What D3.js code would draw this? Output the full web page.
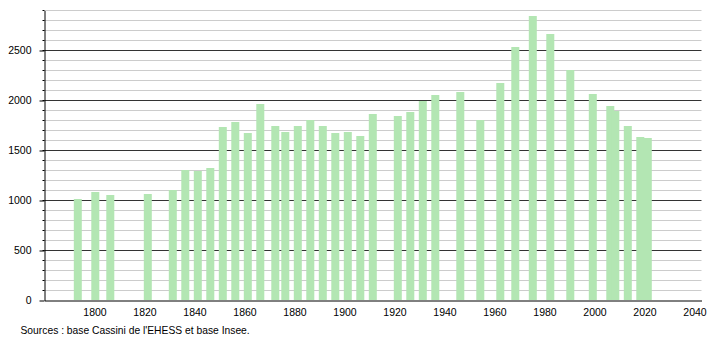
<!DOCTYPE html>
<html>
<head>
<meta charset="utf-8">
<script src="https://cdn.jsdelivr.net/npm/d3@7"></script>
<style>
  body { margin: 0; background: #fff; }
  svg { display: block; font-family: "Liberation Sans", Arial, sans-serif; }
</style>
</head>
<body>
<svg></svg>
<script>
// census years and population counts
var years = [1793, 1800, 1806, 1821, 1831, 1836, 1841, 1846, 1851, 1856,
  1861, 1866, 1872, 1876, 1881, 1886, 1891, 1896, 1901, 1906,
  1911, 1921, 1926, 1931, 1936, 1946, 1954, 1962, 1968, 1975,
  1982, 1990, 1999, 2006, 2008, 2013, 2018, 2021];
var population = [1010, 1080, 1050, 1060, 1100, 1300, 1290, 1320, 1730, 1780,
  1670, 1960, 1740, 1680, 1740, 1800, 1740, 1670, 1680, 1640,
  1860, 1840, 1880, 1990, 2050, 2080, 1800, 2170, 2530, 2840,
  2660, 2300, 2060, 1940, 1890, 1740, 1630, 1620];
var xTicks = [1800, 1820, 1840, 1860, 1880, 1900, 1920, 1940, 1960, 1980, 2000, 2020, 2040];
var yTicks = [0, 500, 1000, 1500, 2000, 2500];
var source = "Sources : base Cassini de l'EHESS et base Insee.";

var svg = d3.select("svg")
  .attr("width", 710)
  .attr("height", 340);

var x = d3.scaleLinear()
  .domain([1780, 2042.8])
  .range([44.5, 701.5]);

var y = d3.scaleLinear()
  .domain([0, 2900])
  .range([300.5, 10.5]);

// grid: light every 100, dark every 500
var gridVals = d3.range(100, 2901, 100);
svg.append("g")
  .selectAll("line")
  .data(gridVals)
  .enter()
  .append("line")
  .attr("x1", x(1780))
  .attr("x2", x.range()[1])
  .attr("y1", function(d) { return y(d); })
  .attr("y2", function(d) { return y(d); })
  .attr("stroke", function(d) { return d % 500 === 0 ? "#333" : "#ccc"; })
  .attr("stroke-width", 1);

// bars
svg.append("g")
  .selectAll("rect")
  .data(years)
  .enter()
  .append("rect")
  .attr("x", function(d) { return x(d) - 3.2; })
  .attr("width", 8)
  .attr("y", function(d, i) { return y(population[i]) - 0.5; })
  .attr("height", function(d, i) { return y(0) - y(population[i]); })
  .attr("fill", "#b3e6b3");

// y axis with minor ticks
var yAxis = svg.append("g")
  .attr("transform", "translate(" + x(1780) + ",0)");

yAxis.selectAll("line.minor")
  .data(gridVals)
  .enter()
  .append("line")
  .attr("class", "minor")
  .attr("x1", -2)
  .attr("x2", 0)
  .attr("y1", function(d) { return y(d); })
  .attr("y2", function(d) { return y(d); })
  .attr("stroke", "#000");

yAxis.call(d3.axisLeft(y)
    .tickValues(yTicks)
    .tickFormat(d3.format("d"))
    .tickSize(5)
    .tickSizeOuter(0)
    .tickPadding(8))
  .call(function(g) {
    g.selectAll("text").attr("font-size", "10.5px").attr("fill", "#000")
      .attr("font-family", "Liberation Sans, Arial, sans-serif");
  });

// x axis, no tick marks
svg.append("g")
  .attr("transform", "translate(0," + y(0) + ")")
  .call(d3.axisBottom(x)
    .tickValues(xTicks)
    .tickFormat(d3.format("d"))
    .tickSize(0)
    .tickPadding(8))
  .call(function(g) {
    g.selectAll("text").attr("font-size", "10.5px").attr("fill", "#000")
      .attr("font-family", "Liberation Sans, Arial, sans-serif");
  });

svg.append("text")
  .attr("x", 20.5)
  .attr("y", 333.5)
  .attr("font-size", "10.3px")
  .attr("fill", "#000")
  .text(source);
</script>
</body>
</html>
